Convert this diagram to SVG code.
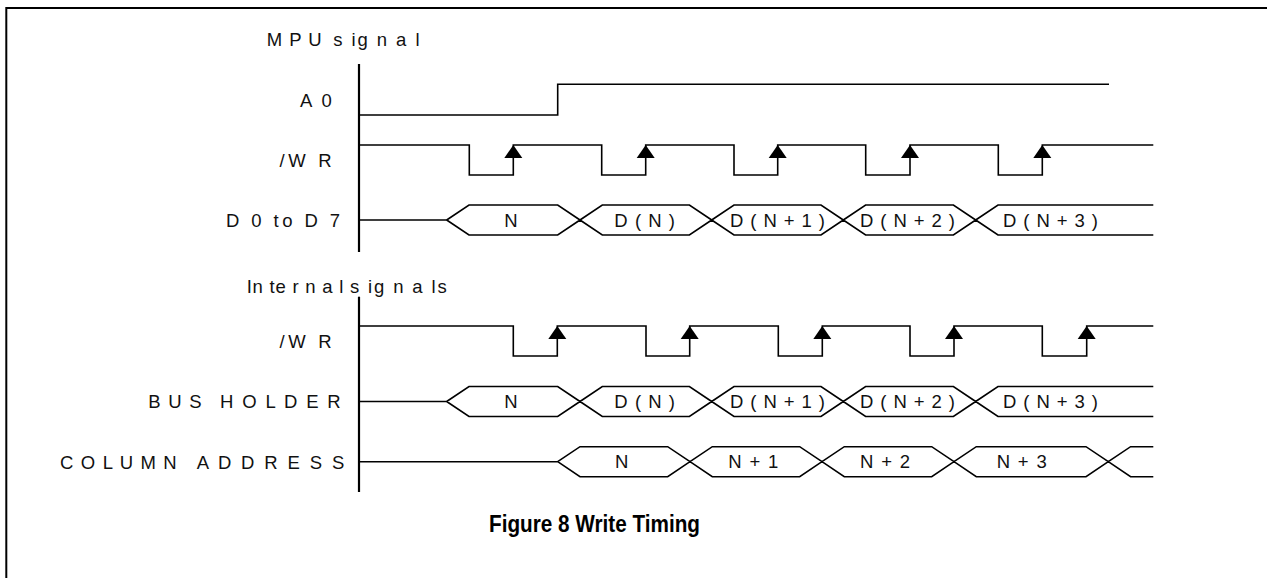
<svg xmlns="http://www.w3.org/2000/svg" xmlns:xlink="http://www.w3.org/1999/xlink" width="1267" height="578" viewBox="0 0 1267 578">
<style>
.w{fill:none;stroke:#000;stroke-width:1.6;stroke-linejoin:miter}
.ax{fill:none;stroke:#000;stroke-width:2.2}
.frame{fill:none;stroke:#000;stroke-width:2}
.t{font-family:"Liberation Sans",Arial,sans-serif;font-size:18.5px;fill:#111}
.m{text-anchor:middle}
.ttl{font-family:"Liberation Sans",Arial,sans-serif;font-size:23px;font-weight:bold;fill:#000}
</style>
<defs>
<path id="arr" d="M0,0 L-9,13 L9,13 Z" fill="#000"/>
</defs>
<rect class="frame" x="6.3" y="8" width="1300" height="620"/>

<g id="axes">
<path class="ax" d="M359,64 V252"/>
<path class="ax" d="M359,296.7 V492"/>
</g>

<g id="mpu-title">
<text class="t" x="266.7" y="45.7" textLength="55" lengthAdjust="spacing">M P U</text>
<text class="t" x="333.3" y="45.7" textLength="86.2" lengthAdjust="spacing">s ig n a l</text>
</g>

<g id="a0">
<text class="t" x="300" y="106.7" textLength="31.7" lengthAdjust="spacing">A 0</text>
<path class="w" d="M359,115 H557.7 V84.3 H1109"/>
</g>

<g id="mpu-wr">
<text class="t" x="279.5" y="166.7" textLength="52" lengthAdjust="spacing">/W R</text>
<path class="w" d="M359,145 H469.3 V175 H513.3 V145 H601.7 V175 H645.7 V145 H734 V175 H777.7 V145 H865.7 V175 H910 V145 H998.3 V175 H1042.3 V145 H1153.3"/>
<use xlink:href="#arr" x="513.3" y="145"/>
<use xlink:href="#arr" x="645.7" y="145"/>
<use xlink:href="#arr" x="777.7" y="145"/>
<use xlink:href="#arr" x="910" y="145"/>
<use xlink:href="#arr" x="1042.3" y="145"/>
</g>

<g id="d0d7">
<text class="t" x="226" y="226.7" textLength="114" lengthAdjust="spacing">D 0 to D 7</text>
<path class="w" d="M359,220 H446.7
M446.7,220 L469,205 H557.7 L580,220 M446.7,220 L469,235 H557.7 L580,220
M580,220 L602.3,205 H689.4 L711.7,220 M580,220 L602.3,235 H689.4 L711.7,220
M711.7,220 L734,205 H821 L843.3,220 M711.7,220 L734,235 H821 L843.3,220
M843.3,220 L865.6,205 H953.4 L975.7,220 M843.3,220 L865.6,235 H953.4 L975.7,220
M975.7,220 L998,205 H1153.3 M975.7,220 L998,235 H1153.3"/>
<text class="t m" x="511" y="226.7">N</text>
<text class="t" x="614.3" y="226.7" textLength="60.7" lengthAdjust="spacing">D ( N )</text>
<text class="t" x="730" y="226.7" textLength="95" lengthAdjust="spacing">D ( N + 1 )</text>
<text class="t" x="860" y="226.7" textLength="95" lengthAdjust="spacing">D ( N + 2 )</text>
<text class="t" x="1003" y="226.7" textLength="95" lengthAdjust="spacing">D ( N + 3 )</text>
</g>

<g id="internal-title">
<text class="t" x="246.7" y="292.7" textLength="96.6" lengthAdjust="spacing">In te r n a l</text>
<text class="t" x="350" y="292.7" textLength="96.7" lengthAdjust="spacing">s ig n a ls</text>
</g>

<g id="int-wr">
<text class="t" x="279.5" y="348.3" textLength="52" lengthAdjust="spacing">/W R</text>
<path class="w" d="M359,326 H513.3 V356 H557.3 V326 H646 V356 H689.7 V326 H778.3 V356 H822.3 V326 H910 V356 H954 V326 H1042.3 V356 H1086.7 V326 H1153.3"/>
<use xlink:href="#arr" x="557.3" y="326"/>
<use xlink:href="#arr" x="689.7" y="326"/>
<use xlink:href="#arr" x="822.3" y="326"/>
<use xlink:href="#arr" x="954" y="326"/>
<use xlink:href="#arr" x="1086.7" y="326"/>
</g>

<g id="bus-holder">
<text class="t" x="148.3" y="408.3" textLength="53.4" lengthAdjust="spacing">B U S</text>
<text class="t" x="220" y="408.3" textLength="120.7" lengthAdjust="spacing">H O L D E R</text>
<path class="w" d="M359,401.5 H446.7
M446.7,401.5 L469,386.5 H557.7 L580,401.5 M446.7,401.5 L469,416.5 H557.7 L580,401.5
M580,401.5 L602.3,386.5 H689.4 L711.7,401.5 M580,401.5 L602.3,416.5 H689.4 L711.7,401.5
M711.7,401.5 L734,386.5 H821 L843.3,401.5 M711.7,401.5 L734,416.5 H821 L843.3,401.5
M843.3,401.5 L865.6,386.5 H953.4 L975.7,401.5 M843.3,401.5 L865.6,416.5 H953.4 L975.7,401.5
M975.7,401.5 L998,386.5 H1153.3 M975.7,401.5 L998,416.5 H1153.3"/>
<text class="t m" x="511" y="407.7">N</text>
<text class="t" x="614.3" y="407.7" textLength="60.7" lengthAdjust="spacing">D ( N )</text>
<text class="t" x="730" y="407.7" textLength="95" lengthAdjust="spacing">D ( N + 1 )</text>
<text class="t" x="860" y="407.7" textLength="95" lengthAdjust="spacing">D ( N + 2 )</text>
<text class="t" x="1003" y="407.7" textLength="95" lengthAdjust="spacing">D ( N + 3 )</text>
</g>

<g id="column-address">
<text class="t" x="60" y="469" textLength="116.7" lengthAdjust="spacing">C O L U M N</text>
<text class="t" x="196.7" y="469" textLength="147.6" lengthAdjust="spacing">A D D R E S S</text>
<path class="w" d="M359,461.7 H557.7
M557.7,461.7 L580,446.7 H667.7 L690,461.7 M557.7,461.7 L580,476.7 H667.7 L690,461.7
M690,461.7 L712.3,446.7 H799.7 L822,461.7 M690,461.7 L712.3,476.7 H799.7 L822,461.7
M822,461.7 L844.3,446.7 H931.7 L954,461.7 M822,461.7 L844.3,476.7 H931.7 L954,461.7
M954,461.7 L976.3,446.7 H1086 L1108.3,461.7 M954,461.7 L976.3,476.7 H1086 L1108.3,461.7
M1108.3,461.7 L1130.6,446.7 H1153.3 M1108.3,461.7 L1130.6,476.7 H1153.3"/>
<text class="t m" x="621.7" y="468.3">N</text>
<text class="t" x="728.3" y="468.3" textLength="50" lengthAdjust="spacing">N + 1</text>
<text class="t" x="860" y="468.3" textLength="50" lengthAdjust="spacing">N + 2</text>
<text class="t" x="996.7" y="468.3" textLength="50" lengthAdjust="spacing">N + 3</text>
</g>

<g id="caption"><text class="ttl" x="489" y="531.7" textLength="211" lengthAdjust="spacingAndGlyphs">Figure 8 Write Timing</text></g>
</svg>
